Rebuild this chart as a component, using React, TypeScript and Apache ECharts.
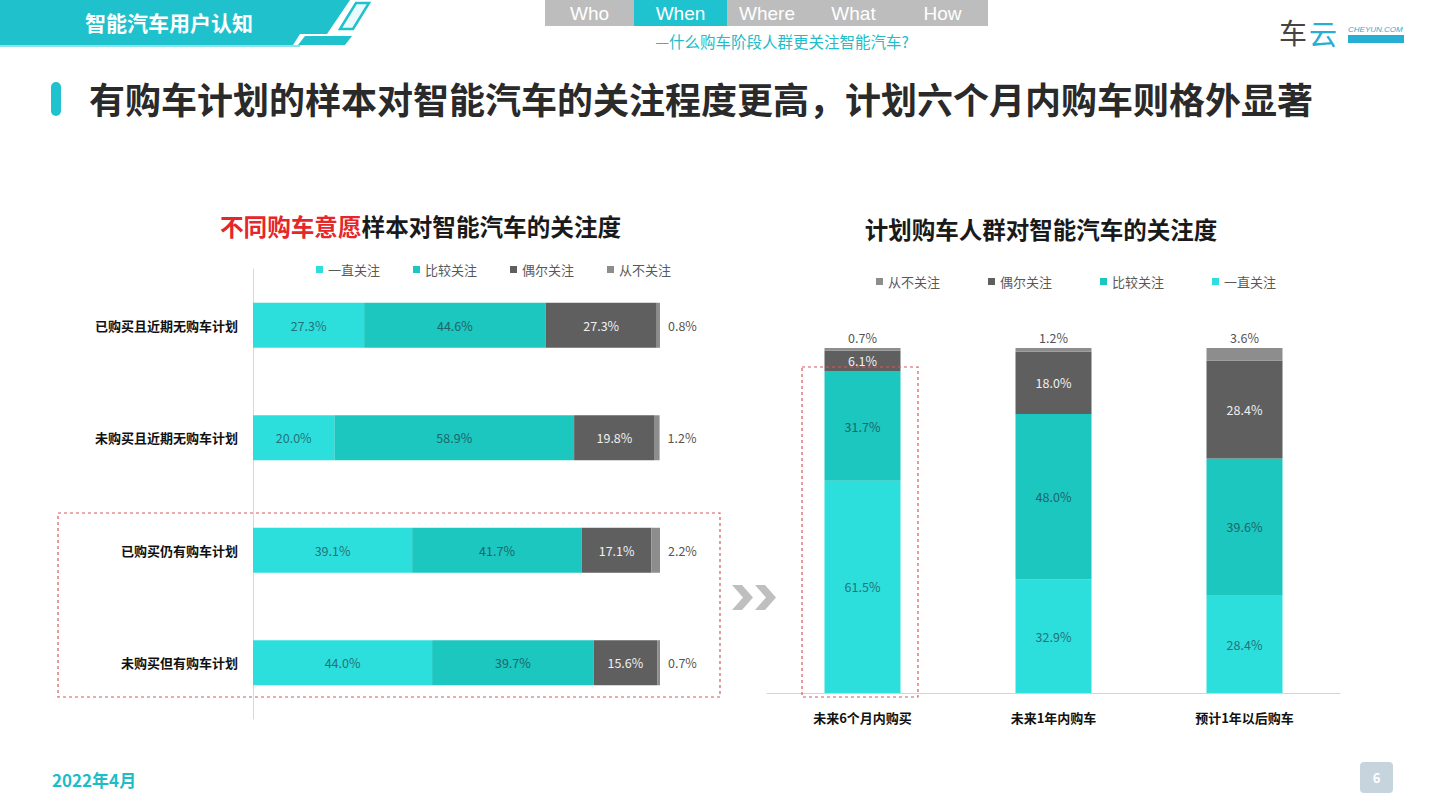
import React, { useEffect, useRef } from "react";
import * as echarts from "echarts";

const seriesNames = ["一直关注", "比较关注", "偶尔关注", "从不关注"];
const seriesColors = ["#2ddfdc", "#1cc7c0", "#5f5f5f", "#8d8d8d"];

const leftCategories = ["已购买且近期无购车计划", "未购买且近期无购车计划", "已购买仍有购车计划", "未购买但有购车计划"];
const leftAlways = [27.3, 20.0, 39.1, 44.0];
const leftOften = [44.6, 58.9, 41.7, 39.7];
const leftSometimes = [27.3, 19.8, 17.1, 15.6];
const leftNever = [0.8, 1.2, 2.2, 0.7];

const rightCategories = ["未来6个月内购买", "未来1年内购车", "预计1年以后购车"];
const rightAlways = [61.5, 32.9, 28.4];
const rightOften = [31.7, 48.0, 39.6];
const rightSometimes = [6.1, 18.0, 28.4];
const rightNever = [0.7, 1.2, 3.6];

const leftLegendOrder = ["一直关注", "比较关注", "偶尔关注", "从不关注"];
const rightLegendOrder = ["从不关注", "偶尔关注", "比较关注", "一直关注"];

const navItems = ["Who", "When", "Where", "What", "How"];

const FONT = "'Noto Sans CJK SC', 'Noto Sans', sans-serif";

export default function App() {
  const ref = useRef<HTMLDivElement>(null);

  useEffect(() => {
    if (!ref.current) return;
    const chart = echarts.init(ref.current, undefined, { renderer: "svg" });
    const fmt = (p: any) => `${Number(p.value).toFixed(1)}%`;
    const leftData = [leftAlways, leftOften, leftSometimes, leftNever];
    const rightData = [rightAlways, rightOften, rightSometimes, rightNever];
    const insideColors = ["#237379", "#1d6669", "#f0f0f0", "#555"];

    const series: any[] = [];
    leftData.forEach((d, i) => {
      series.push({
        name: seriesNames[i],
        type: "bar",
        stack: "L",
        xAxisIndex: 0,
        yAxisIndex: 0,
        barWidth: 45,
        data: d,
        itemStyle: { color: seriesColors[i] },
        label: {
          show: true,
          position: i === 3 ? "right" : "inside",
          distance: 8,
          formatter: fmt,
          color: i === 3 ? "#555" : insideColors[i],
          fontSize: 12.5,
          fontFamily: FONT,
        },
      });
    });
    rightData.forEach((d, i) => {
      series.push({
        name: seriesNames[i],
        type: "bar",
        stack: "R",
        xAxisIndex: 1,
        yAxisIndex: 1,
        barWidth: 76,
        data: d,
        itemStyle: { color: seriesColors[i] },
        label: {
          show: true,
          position: i === 3 ? "top" : "inside",
          distance: 4,
          formatter: fmt,
          color: i === 3 ? "#555" : insideColors[i],
          fontSize: 12.5,
          fontFamily: FONT,
        },
      });
    });

    const navX = [545, 634, 727, 810, 900, 988];
    const navGraphics: any[] = [
      { type: "rect", shape: { x: 545, y: 0, width: 443, height: 26 }, style: { fill: "#bdbdbd" } },
      { type: "rect", shape: { x: 634, y: 0, width: 93, height: 26 }, style: { fill: "#1ec3cf" } },
    ];
    navItems.forEach((t, i) => {
      navGraphics.push({
        type: "text",
        x: (navX[i] + navX[i + 1]) / 2 - (i >= 2 ? 1.5 : 0),
        y: 13,
        style: {
          text: t,
          fill: "#ffffff",
          font: `19px 'Liberation Sans', Arial, sans-serif`,
          align: "center",
          verticalAlign: "middle",
        },
      });
    });

    const chevron = (x: number) => ({
      type: "polygon",
      shape: { points: [[x, 585], [x + 10, 585], [x + 21, 597.5], [x + 10, 610], [x, 610], [x + 11, 597.5]] },
      style: { fill: "#bfbfbf" },
    });

    const graphic: any[] = [
      // header banner
      {
        type: "polygon",
        shape: { points: [[0, 0], [350, 0], [327, 34], [300, 34], [293, 45], [0, 45]] },
        style: { fill: "#1fc1cc" },
      },
      {
        type: "polygon",
        shape: { points: [[305, 36], [352, 36], [345, 45], [298, 45]] },
        style: { fill: "#1fc1cc" },
      },
      {
        type: "polygon",
        shape: { points: [[356, 3], [369, 3], [353, 29], [340, 29]] },
        style: { fill: "#e8fafb", stroke: "#1fc1cc", lineWidth: 2.5 },
      },
      { type: "rect", shape: { x: 0, y: 45, width: 300, height: 2 }, style: { fill: "#8fe3e8" } },
      {
        type: "text",
        x: 85,
        y: 22,
        style: {
          text: "智能汽车用户认知",
          fill: "#ffffff",
          font: `bold 21px ${FONT}`,
          verticalAlign: "middle",
        },
      },
      ...navGraphics,
      {
        type: "text",
        x: 782,
        y: 41,
        style: {
          text: "—什么购车阶段人群更关注智能汽车?",
          fill: "#22bcc8",
          font: `15.5px ${FONT}`,
          align: "center",
          verticalAlign: "middle",
        },
      },
      // logo
      {
        type: "text",
        x: 1279,
        y: 32,
        style: { text: "车", fill: "#444", font: `28px ${FONT}`, verticalAlign: "middle" },
      },
      {
        type: "text",
        x: 1309,
        y: 33,
        style: { text: "云", fill: "#29aed3", font: `28px ${FONT}`, verticalAlign: "middle" },
      },
      {
        type: "text",
        x: 1348,
        y: 29,
        style: { text: "CHEYUN.COM", fill: "#29aed3", font: `italic 8px 'Liberation Sans', sans-serif`, verticalAlign: "middle" },
      },
      { type: "rect", shape: { x: 1348, y: 35, width: 56, height: 8 }, style: { fill: "#29aed3" } },
      // title accent
      { type: "rect", shape: { x: 51, y: 82, width: 10, height: 34, r: 5 }, style: { fill: "#1ec3cf" } },
      {
        type: "text",
        x: 89,
        y: 98,
        style: {
          text: "有购车计划的样本对智能汽车的关注程度更高，计划六个月内购车则格外显著",
          fill: "#2a2a2a",
          font: `bold 36px ${FONT}`,
          verticalAlign: "middle",
        },
      },
      // chart titles
      {
        type: "text",
        x: 220,
        y: 226,
        style: {
          text: "{r|不同购车意愿}{b|样本对智能汽车的关注度}",
          verticalAlign: "middle",
          rich: {
            r: { fill: "#e5262b", font: `bold 23.6px ${FONT}` },
            b: { fill: "#1a1a1a", font: `bold 23.6px ${FONT}` },
          },
        },
      },
      {
        type: "text",
        x: 1041,
        y: 229,
        style: {
          text: "计划购车人群对智能汽车的关注度",
          fill: "#1a1a1a",
          font: `bold 23.5px ${FONT}`,
          align: "center",
          verticalAlign: "middle",
        },
      },
      // chevrons
      chevron(732),
      chevron(755),
      // dashed highlight boxes
      {
        type: "rect",
        z: 100,
        shape: { x: 58, y: 513, width: 662, height: 184 },
        style: { fill: "none", stroke: "#d9585a", lineWidth: 1.2, lineDash: [3, 3] },
      },
      {
        type: "rect",
        z: 100,
        shape: { x: 802, y: 367, width: 116, height: 330 },
        style: { fill: "none", stroke: "#d9585a", lineWidth: 1.2, lineDash: [3, 3] },
      },
      // footer
      {
        type: "text",
        x: 52,
        y: 779,
        style: { text: "2022年4月", fill: "#1fbcc8", font: `bold 17px ${FONT}`, verticalAlign: "middle" },
      },
      { type: "rect", shape: { x: 1360, y: 762, width: 33, height: 31, r: 4 }, style: { fill: "#c6d4dd" } },
      {
        type: "text",
        x: 1376.5,
        y: 777.5,
        style: { text: "6", fill: "#ffffff", font: `bold 13px ${FONT}`, align: "center", verticalAlign: "middle" },
      },
    ];

    chart.setOption({
      animation: false,
      backgroundColor: "#ffffff",
      textStyle: { fontFamily: FONT },
      legend: [
        {
          data: leftLegendOrder,
          left: 311,
          top: 258,
          itemWidth: 7,
          itemHeight: 7,
          itemGap: 33,
          icon: "rect",
          textStyle: { color: "#595959", fontSize: 13, fontFamily: FONT },
          selectedMode: false,
        },
        {
          data: rightLegendOrder,
          left: 871,
          top: 270,
          itemWidth: 7,
          itemHeight: 7,
          itemGap: 48,
          icon: "rect",
          textStyle: { color: "#595959", fontSize: 13, fontFamily: FONT },
          selectedMode: false,
        },
      ],
      grid: [
        { left: 253, top: 269, width: 407, height: 450, containLabel: false },
        { left: 767, top: 348, width: 573, height: 345, containLabel: false },
      ],
      xAxis: [
        { type: "value", gridIndex: 0, min: 0, max: 100, show: false },
        {
          type: "category",
          gridIndex: 1,
          data: rightCategories,
          axisLine: { show: true, lineStyle: { color: "#d4d4d4", width: 1 } },
          axisTick: { show: false },
          axisLabel: { color: "#111", fontSize: 13, fontWeight: "bold", margin: 18, fontFamily: FONT },
        },
      ],
      yAxis: [
        {
          type: "category",
          gridIndex: 0,
          inverse: true,
          data: leftCategories,
          axisLine: { show: true, lineStyle: { color: "#d8d8d8", width: 1 } },
          axisTick: { show: false },
          axisLabel: { color: "#111", fontSize: 13, fontWeight: "bold", margin: 15, fontFamily: FONT },
        },
        { type: "value", gridIndex: 1, min: 0, max: 100, show: false },
      ],
      series,
      graphic,
    });
    return () => chart.dispose();
  }, []);

  return (
    <div
      ref={ref}
      style={{ position: "fixed", left: 0, top: 0, width: 1440, height: 811, background: "#fff" }}
    />
  );
}
